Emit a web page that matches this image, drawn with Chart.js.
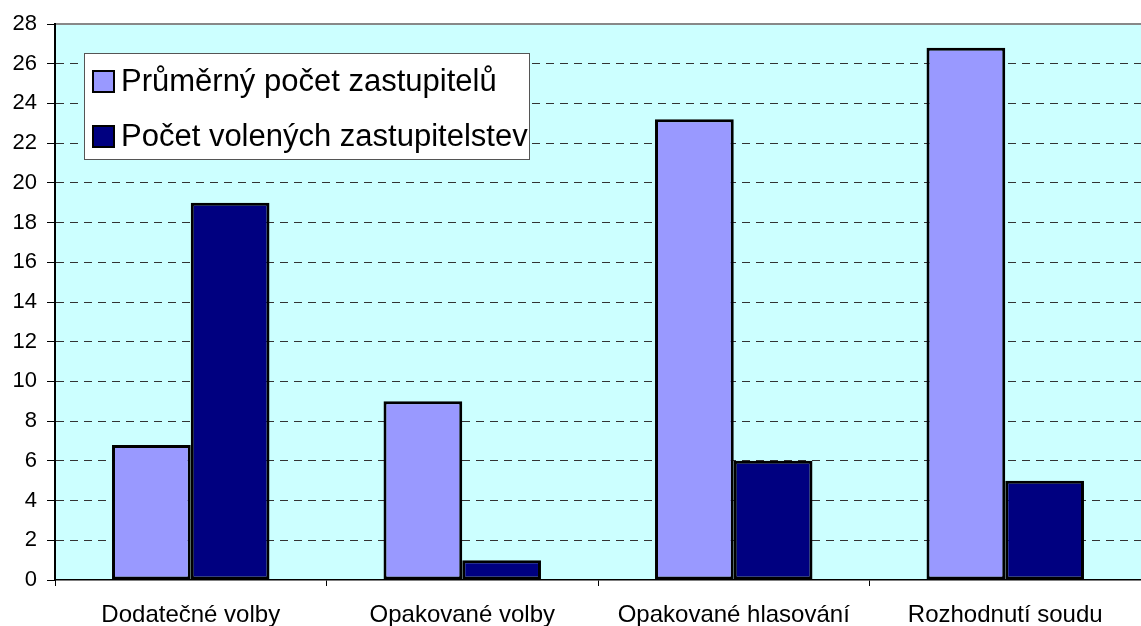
<!DOCTYPE html>
<html>
<head>
    <meta charset="utf-8">
    <title>Zastupitelstva</title>
    <script src="https://cdn.jsdelivr.net/npm/chart.js"></script>
    <style>
        body { margin: 0; background: #fff; }
        #wrap { width: 1141px; height: 626px; }
    </style>
</head>
<body>
    <div id="wrap"><canvas id="chart" width="1141" height="626"></canvas></div>

    <script>
        // data
        const categories = ['Dodatečné volby', 'Opakované volby', 'Opakované hlasování', 'Rozhodnutí soudu'];
        const prumernyPocet = [6.8, 9, 23.2, 26.8];
        const pocetZastupitelstev = [19, 1, 6, 5];
        const seriesNames = ['Průměrný počet zastupitelů', 'Počet volených zastupitelstev'];
        const yMin = 0, yMax = 28, yStep = 2;

        const FONT = '"Liberation Sans", Arial, sans-serif';

        // plot background + top border line
        const plotBg = {
            id: 'plotBg',
            beforeDraw(chart) {
                const { ctx, chartArea: a } = chart;
                ctx.save();
                ctx.fillStyle = '#CCFFFF';
                ctx.fillRect(a.left, a.top, a.right - a.left, a.bottom - a.top);
                ctx.strokeStyle = '#888888';
                ctx.lineWidth = 2;
                ctx.beginPath();
                ctx.moveTo(a.left, a.top);
                ctx.lineTo(a.right, a.top);
                ctx.stroke();
                ctx.restore();
            }
        };

        // legend box drawn inside the plot area
        const boxLegend = {
            id: 'boxLegend',
            afterDraw(chart) {
                const ctx = chart.ctx;
                const x = 84, y = 53, w = 445, h = 106;
                ctx.save();
                ctx.fillStyle = '#fff';
                ctx.fillRect(x, y, w, h);
                ctx.strokeStyle = '#555';
                ctx.lineWidth = 1;
                ctx.strokeRect(x + 0.5, y + 0.5, w, h);
                ctx.font = '31px ' + FONT;
                ctx.textBaseline = 'middle';
                chart.data.datasets.forEach((ds, i) => {
                    const cy = 81 + i * 55;
                    ctx.fillStyle = ds.backgroundColor;
                    ctx.fillRect(93, cy - 10, 21, 21);
                    ctx.strokeStyle = '#000';
                    ctx.lineWidth = 2;
                    ctx.strokeRect(93, cy - 10, 21, 21);
                    ctx.fillStyle = '#000';
                    ctx.fillText(ds.label, 121, cy + 1);
                });
                ctx.restore();
            }
        };

        const ctx = document.getElementById('chart').getContext('2d');
        const chart = new Chart(ctx, {
            type: 'bar',
            data: {
                labels: categories,
                datasets: [
                    {
                        label: seriesNames[0],
                        data: prumernyPocet,
                        backgroundColor: '#9999FF',
                        borderColor: '#000',
                        borderWidth: 3,
                        borderSkipped: false
                    },
                    {
                        label: seriesNames[1],
                        data: pocetZastupitelstev,
                        backgroundColor: '#000080',
                        borderColor: '#000',
                        borderWidth: 3,
                        borderSkipped: false
                    }
                ]
            },
            options: {
                responsive: false,
                animation: false,
                layout: { padding: { top: 24, right: 0, bottom: 0, left: 0 } },
                categoryPercentage: 0.58,
                barPercentage: 1.0,
                plugins: {
                    legend: { display: false },
                    tooltip: { enabled: false }
                },
                scales: {
                    x: {
                        grid: {
                            offset: true,
                            drawOnChartArea: false,
                            drawTicks: true,
                            tickLength: 6,
                            tickColor: '#000',
                            tickWidth: 1
                        },
                        border: { color: '#000', width: 1.5 },
                        ticks: {
                            color: '#000',
                            padding: 15,
                            maxRotation: 0,
                            font: { family: FONT, size: 24 }
                        },
                        afterFit(scale) { scale.height = 46; }
                    },
                    y: {
                        min: yMin,
                        max: yMax,
                        grid: {
                            color: (c) => (c.tick && (c.tick.value === yMin || c.tick.value === yMax)) ? 'rgba(0,0,0,0)' : '#333',
                            lineWidth: 1,
                            tickLength: 8,
                            tickColor: '#000',
                            tickWidth: 1,
                            tickBorderDash: []
                        },
                        border: { color: '#000', width: 2, dash: [8, 6] },
                        ticks: {
                            stepSize: yStep,
                            color: '#000',
                            padding: 10,
                            font: { family: FONT, size: 22 }
                        },
                        afterFit(scale) { scale.width = 55; }
                    }
                }
            },
            plugins: [plotBg, boxLegend]
        });
    </script>
</body>
</html>
